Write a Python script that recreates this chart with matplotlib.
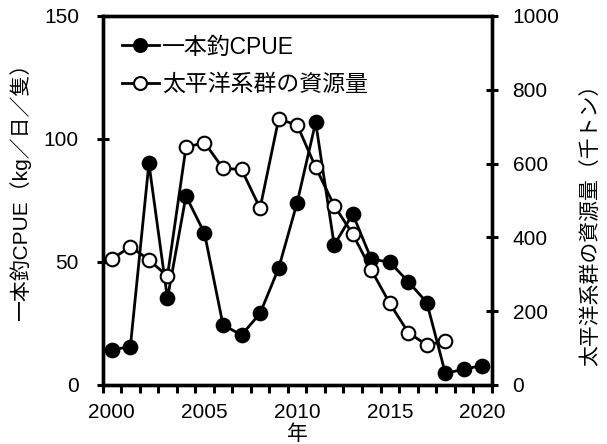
import matplotlib
matplotlib.use("Agg")
import matplotlib.pyplot as plt
from matplotlib.ticker import FixedLocator

plt.rcParams['font.family'] = ['Liberation Sans', 'Noto Sans CJK JP', 'DejaVu Sans']

years_cpue = list(range(2000, 2021))
cpue = [14.3, 15.6, 90.1, 35.2, 76.8, 61.7, 24.4, 20.3, 29.1, 47.4, 74.1,
        106.8, 56.9, 69.5, 51.2, 49.9, 42.0, 33.5, 4.7, 6.4, 7.9]
years_bio = list(range(2000, 2019))
biomass = [341, 375, 339, 295, 644, 657, 587, 584, 479, 720, 705,
           590, 486, 409, 312, 221, 142, 108, 119]

cpue_label = '一本釣CPUE'
bio_label = '太平洋系群の資源量'
ylabel_left = '一本釣CPUE（kg／日／隻）'
ylabel_right = '太平洋系群の資源量（千トン）'
xlabel = '年'
xtick_labels = [2000, 2005, 2010, 2015, 2020]

fig = plt.figure(figsize=(6.07, 4.44), dpi=100)
ax = fig.add_axes([0.169, 0.133, 0.641, 0.831])
ax2 = ax.twinx()

lw = 2.0
l1, = ax.plot(years_cpue, cpue, '-o', color='black', lw=lw, ms=9.8,
              mfc='black', mec='black', mew=1.5, label=cpue_label, zorder=3)
l2, = ax2.plot(years_bio, biomass, '-o', color='black', lw=lw, ms=9.8,
               mfc='white', mec='black', mew=1.5, label=bio_label, zorder=3)

ax.set_xlim(1999.5, 2020.5)
ax.set_ylim(0, 150)
ax2.set_ylim(0, 1000)

ax.set_xticks(xtick_labels)
ax.set_xticklabels([str(v) for v in xtick_labels])
ax.xaxis.set_minor_locator(FixedLocator([y + 0.5 for y in range(1999, 2021)]))
ax.tick_params(axis='x', which='major', length=0, labelsize=15, pad=13)
ax.tick_params(axis='x', which='minor', direction='out', length=6, width=2.2)
ax.set_yticks([0, 50, 100, 150])
ax.tick_params(axis='y', which='major', direction='inout', length=8, width=2.2,
               labelsize=15, pad=13)
ax2.set_yticks([0, 200, 400, 600, 800, 1000])
ax2.tick_params(axis='y', which='major', direction='inout', length=8, width=2.2,
                labelsize=15, pad=11)

for a in (ax, ax2):
    for s in a.spines.values():
        s.set_linewidth(2.4)

fig.text(20 / 607, 1 - 187 / 444, ylabel_left, rotation=90, ha='center',
         va='center', fontsize=15)
fig.text(590 / 607, 1 - 220 / 444, ylabel_right, rotation=90, ha='center',
         va='center', fontsize=15)
fig.text(297 / 607, 1 - 434 / 444, xlabel, ha='center', va='center', fontsize=15)

leg = ax.legend([l1, l2], [cpue_label, bio_label], loc='upper left',
                frameon=False, fontsize=16.5, handlelength=1.6, handletextpad=0.15,
                labelspacing=0.62, borderaxespad=0.45, borderpad=0.4,
                markerscale=0.95)

fig.savefig('out.png', dpi=100, facecolor='white')
